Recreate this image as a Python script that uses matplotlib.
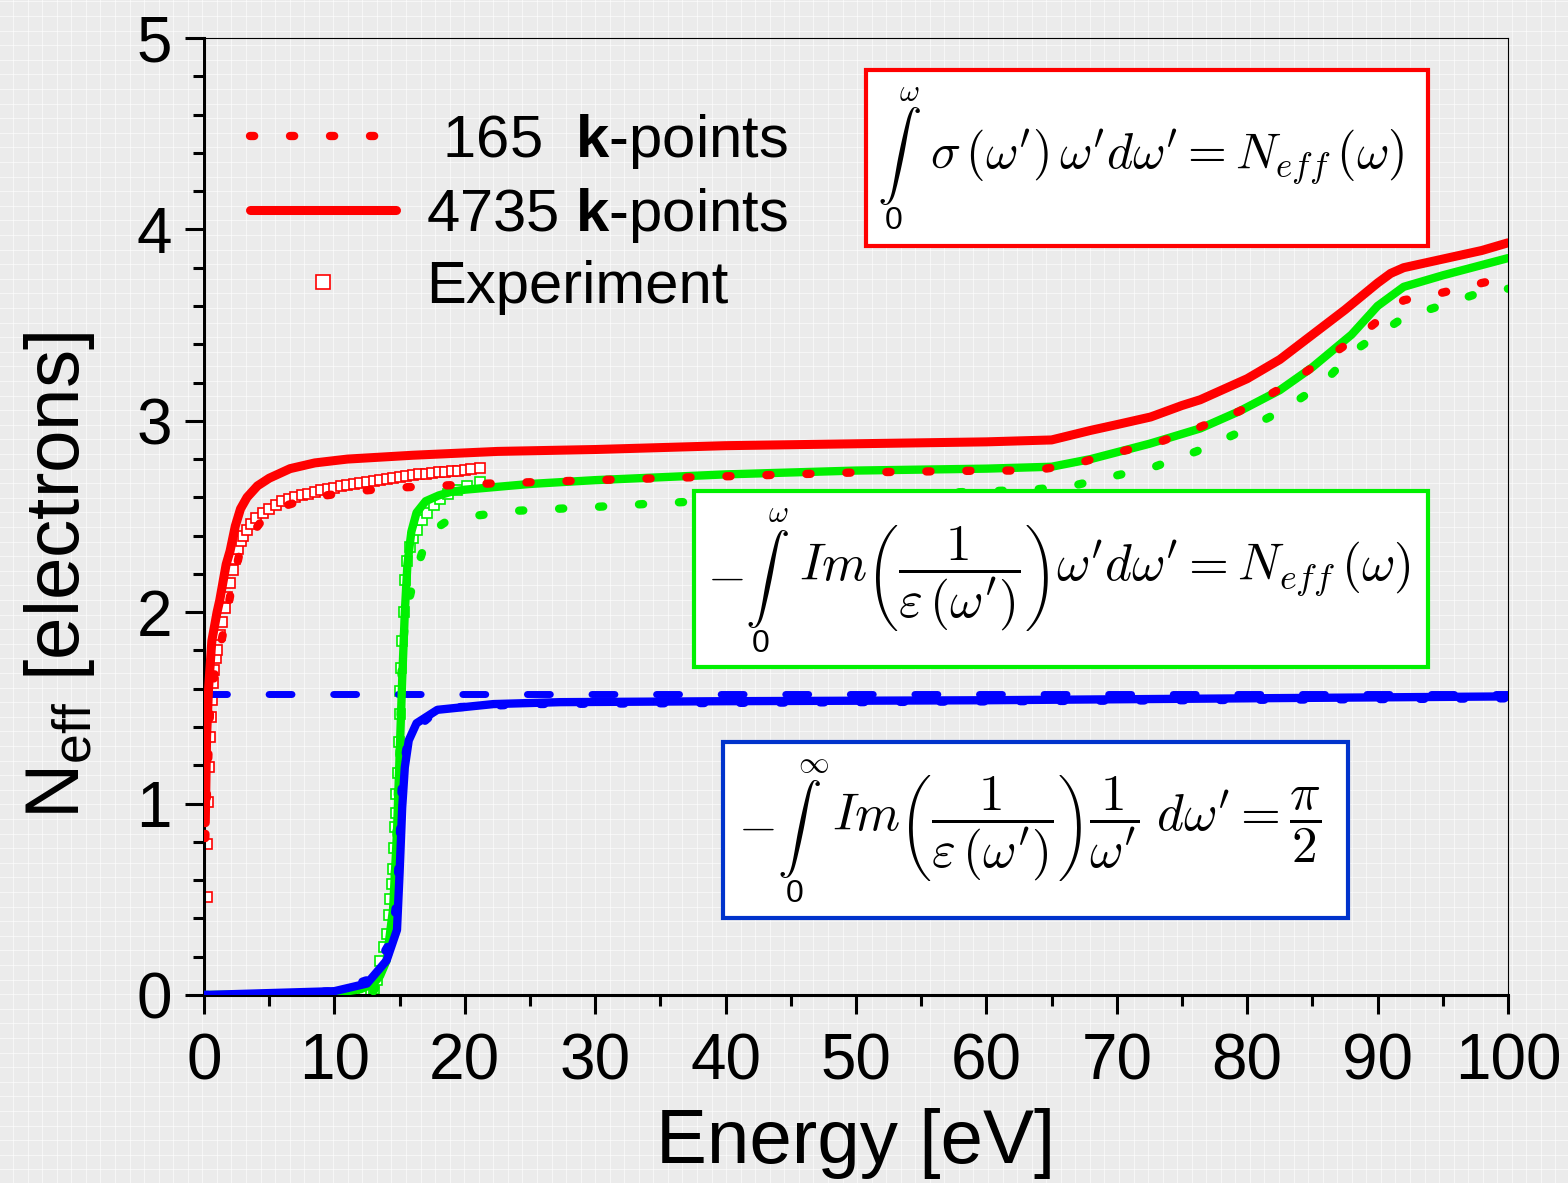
import numpy as np
import matplotlib
matplotlib.use("Agg")
import matplotlib.pyplot as plt
from matplotlib.patches import Rectangle
from matplotlib.lines import Line2D

plt.rcParams['font.family'] = ['Liberation Sans', 'DejaVu Sans']
plt.rcParams['mathtext.fontset'] = 'custom'
plt.rcParams['mathtext.rm'] = 'Liberation Sans'
plt.rcParams['mathtext.bf'] = 'Liberation Sans:bold'
plt.rcParams['mathtext.it'] = 'Liberation Sans:italic'

# ---- data ----
# sigma integral, 4735 k-points
red_x = [0.1, 0.2, 0.35, 0.6, 1.0, 1.2, 1.7, 2.0, 2.4, 2.8, 3.3, 4.1, 5.0, 6.6, 8.5, 11, 16, 22.5, 30, 40, 50, 60,
         65, 68, 70, 72.6, 75, 76.4, 80, 82.5, 85, 87.5, 90, 91, 92, 94, 96, 98, 100]
red_y = [0.9, 1.35, 1.6, 1.85, 2.0, 2.06, 2.25, 2.32, 2.45, 2.54, 2.6, 2.66, 2.7, 2.75, 2.78, 2.8, 2.82, 2.84, 2.85,
         2.87, 2.88, 2.89, 2.90, 2.95, 2.98, 3.02, 3.08, 3.11, 3.22, 3.32, 3.45, 3.58, 3.72, 3.77, 3.80, 3.83, 3.86,
         3.89, 3.93]
# sigma integral, 165 k-points
red_dot_x = [0.1, 0.5, 1.0, 1.5, 2.1, 2.8, 5.0, 8.3, 11.4, 14.6, 17.8, 20.9, 30, 40, 50, 60, 63.5, 66.6, 69.7, 72.9,
             76.1, 79.4, 82.6, 85.7, 88.7, 92, 95, 98, 100]
red_dot_y = [0.82, 1.55, 1.75, 1.9, 2.12, 2.33, 2.53, 2.6, 2.63, 2.65, 2.66, 2.67, 2.69, 2.71, 2.73, 2.74, 2.74, 2.77,
             2.83, 2.88, 2.96, 3.05, 3.17, 3.31, 3.45, 3.63, 3.67, 3.72, 3.75]
# experiment (sigma)
red_exp_x = [0.23, 0.25, 0.3, 0.38, 0.46, 0.54, 0.61, 0.69, 0.8, 0.9, 1.0, 1.2, 1.4, 1.6, 1.8, 2.0, 2.2, 2.4, 2.6,
             2.8, 3.0, 3.3, 3.6, 4.0, 4.5, 5.0, 5.5, 6.0, 6.5, 7.0, 7.5, 8.0, 8.5, 9.0, 9.5, 10.0, 10.5, 11.0, 11.5,
             12.0, 12.5, 13.0, 13.5, 14.0, 14.5, 15.0, 15.5, 16.0, 16.5, 17.0, 17.5, 18.0, 18.5, 19.0, 19.5, 20.0,
             20.5, 21.2]
red_exp_y = [0.51, 0.79, 1.01, 1.19, 1.35, 1.45, 1.54, 1.63, 1.7, 1.76, 1.80, 1.88, 1.95, 2.02, 2.08, 2.15, 2.22, 2.28,
             2.33, 2.37, 2.40, 2.43, 2.46, 2.49, 2.52, 2.54, 2.56, 2.58, 2.59, 2.60, 2.61, 2.62, 2.63, 2.64, 2.645,
             2.65, 2.66, 2.665, 2.67, 2.675, 2.68, 2.685, 2.69, 2.695, 2.70, 2.705, 2.71, 2.715, 2.72, 2.72, 2.725,
             2.73, 2.735, 2.74, 2.74, 2.745, 2.75, 2.755]

# loss function integral, 4735 k-points
green_x = [0, 5, 10, 12, 13, 13.5, 14, 14.5, 14.8, 15.0, 15.2, 15.4, 15.6, 15.9, 16.3, 17, 18, 19, 20, 25, 30, 40,
           50, 60, 65, 68, 72.5, 76.4, 79.4, 82.5, 85, 88, 90, 92, 95, 100]
green_y = [0, 0.005, 0.01, 0.03, 0.06, 0.1, 0.18, 0.45, 0.85, 1.25, 1.65, 2.0, 2.25, 2.42, 2.52, 2.58, 2.61, 2.63,
           2.64, 2.67, 2.69, 2.72, 2.74, 2.75, 2.76, 2.80, 2.88, 2.96, 3.05, 3.16, 3.28, 3.45, 3.60, 3.70, 3.76, 3.85]
# loss function integral, 165 k-points
green_dot_x = [13, 14, 14.5, 14.8, 14.9, 15.03, 15.18, 15.5, 16.2, 17.2, 18.5, 20.3, 24, 30, 35, 45, 55, 63.5,
               66.6, 69.7, 72.9, 76.1, 79.4, 82.6, 85.7, 88.3, 92, 94.8, 97.9, 100]
green_dot_y = [0.02, 0.15, 0.4, 0.91, 1.13, 1.34, 1.77, 2.0, 2.2, 2.41, 2.47, 2.50, 2.53, 2.55, 2.57, 2.60, 2.62,
               2.64, 2.66, 2.71, 2.76, 2.84, 2.94, 3.05, 3.19, 3.37, 3.54, 3.60, 3.67, 3.69]
# experiment (loss function)
green_exp_x = [11.8, 12.3, 12.8, 13.0, 13.3, 13.5, 13.8, 14.0, 14.2, 14.3, 14.4, 14.5, 14.55, 14.65, 14.7, 14.75,
               14.85, 14.95, 15.0, 15.05, 15.1, 15.2, 15.3, 15.4, 15.6, 15.8, 16.0, 16.3, 16.7, 17.1, 17.6, 18.1,
               18.7, 19.4, 20.2, 21.2]
green_exp_y = [0.0, 0.01, 0.02, 0.03, 0.08, 0.18, 0.25, 0.32, 0.42, 0.5, 0.58, 0.66, 0.77, 0.88, 0.95, 1.05, 1.16,
               1.32, 1.47, 1.59, 1.71, 1.85, 2.0, 2.17, 2.27, 2.34, 2.39, 2.43, 2.48, 2.52, 2.56, 2.59, 2.62, 2.64,
               2.66, 2.68]

# sum rule, 4735 k-points
blue_x = [0, 5, 10, 12.5, 14, 14.8, 15.0, 15.2, 15.4, 15.7, 16.3, 17.9, 22.2, 27.3, 40, 60, 80, 100]
blue_y = [0, 0.01, 0.02, 0.06, 0.18, 0.34, 0.64, 0.98, 1.19, 1.33, 1.42, 1.49, 1.52, 1.53, 1.535, 1.54, 1.55, 1.56]
# sum rule, 165 k-points
blue_dot_x = [0, 5, 10, 12.6, 14.4, 14.8, 15.0, 15.2, 15.7, 18.1, 25, 50, 75, 100]
blue_dot_y = [0, 0.005, 0.02, 0.08, 0.29, 0.51, 0.8, 1.15, 1.36, 1.5, 1.52, 1.53, 1.54, 1.55]
# pi/2 reference
pi_half_x = [0, 100]
pi_half_y = [np.pi / 2, np.pi / 2]

RED = '#ff0000'
GREEN = '#00f000'
BLUE = '#0000ff'

W, H = 1568, 1183
fig = plt.figure(figsize=(W / 100, H / 100), dpi=100, facecolor='#ebebeb')

# light checkered background
bg = fig.add_axes([0, 0, 1, 1])
bg.set_xlim(0, W)
bg.set_ylim(H, 0)
bg.axis('off')
for gx in np.arange(13.15, W, 14.55):
    bg.axvline(gx, color='white', lw=0.8, alpha=0.6)
for gy in np.arange(1.4, H, 14.6):
    bg.axhline(gy, color='white', lw=0.8, alpha=0.6)

ax = fig.add_axes([204 / W, (H - 995) / H, 1304 / W, 957 / H])
ax.set_facecolor('none')

dot = (0, (0.5, 4.3))
ax.plot(green_exp_x, green_exp_y, ls='none', marker='s', ms=7, mfc='white', mec=GREEN, mew=1.2, zorder=2)
ax.plot(red_exp_x, red_exp_y, ls='none', marker='s', ms=7, mfc='white', mec=RED, mew=1.2, zorder=2)
ax.plot(pi_half_x, pi_half_y, color=BLUE, lw=5, ls=(0, (3.3, 6.0)), dash_capstyle='round', zorder=3)
ax.plot(green_x, green_y, color=GREEN, lw=6, solid_capstyle='round', zorder=3)
ax.plot(green_dot_x, green_dot_y, color=GREEN, lw=6, ls=dot, dash_capstyle='round', zorder=3)
ax.plot(blue_x, blue_y, color=BLUE, lw=6, solid_capstyle='round', zorder=4)
ax.plot(blue_dot_x, blue_dot_y, color=BLUE, lw=6, ls=dot, dash_capstyle='round', zorder=4)
ax.plot(red_x, red_y, color=RED, lw=6.5, solid_capstyle='round', zorder=4)
ax.plot(red_dot_x, red_dot_y, color=RED, lw=6, ls=dot, dash_capstyle='round', zorder=4)

ax.set_xlim(0, 100)
ax.set_ylim(0, 5)
ax.set_xticks(np.arange(0, 101, 10))
ax.set_xticks(np.arange(5, 100, 10), minor=True)
ax.set_yticks(np.arange(0, 6, 1))
ax.set_yticks(np.arange(0, 5.01, 0.2), minor=True)
ax.tick_params(which='both', direction='out', width=2.2, top=False, right=False)
ax.tick_params(which='major', length=14, labelsize=46)
ax.tick_params(which='minor', length=8)
ax.tick_params(axis='x', pad=13)
ax.tick_params(axis='y', pad=9)
for s in ['left', 'bottom']:
    ax.spines[s].set_linewidth(2.2)
for s in ['top', 'right']:
    ax.spines[s].set_linewidth(0.8)

ax.set_xlabel('Energy [eV]', fontsize=55, va='top')
ax.xaxis.set_label_coords(0.5, -0.118)
ax.set_ylabel(r'N$_\mathregular{eff}$ [electrons]', fontsize=55)
ax.yaxis.set_label_coords(-0.082, 0.439)

handles = [
    Line2D([], [], color=RED, lw=6, ls=dot, dash_capstyle='round'),
    Line2D([], [], color=RED, lw=6.5, solid_capstyle='round'),
    Line2D([], [], ls='none', marker='s', ms=10, mfc='white', mec=RED, mew=1.2),
]
labels = [r' 165  $\mathbf{k}$-points', r'4735 $\mathbf{k}$-points', 'Experiment']
ax.legend(handles, labels, loc='upper left', bbox_to_anchor=((250 - 204) / 1304, (995 - 112) / 957),
          frameon=False, fontsize=43, handlelength=2.45, handletextpad=0.5, labelspacing=0.25,
          borderpad=0, borderaxespad=0)


def fx(px):
    return px / W


def fy(py):
    return 1 - py / H


def eq_box(x0, y0, x1, y1, color):
    fig.add_artist(Rectangle((fx(x0), fy(y1)), (x1 - x0) / W, (y1 - y0) / H, transform=fig.transFigure,
                             facecolor='white', edgecolor=color, lw=3, zorder=5))


def eq_text(x, y, s, size, ha='left'):
    fig.text(fx(x), fy(y), s, fontsize=size, ha=ha, va='center', math_fontfamily='cm', zorder=6)


# sigma box
eq_box(866, 70, 1428, 246, RED)
eq_text(899, 156, r'$\int$', 32, ha='center')
eq_text(909, 93, r'$\omega$', 22, ha='center')
fig.text(fx(894), fy(221), '0', fontsize=23, ha='center', va='center', zorder=6)
eq_text(930, 157, r"$\sigma\,(\omega')\,\omega' d\omega' = N_{eff}\,(\omega)$", 36)

# loss function box
eq_box(694, 491, 1428, 667, GREEN)
eq_text(725, 578, r'$-$', 36, ha='center')
eq_text(767, 579, r'$\int$', 32, ha='center')
eq_text(778, 514, r'$\omega$', 22, ha='center')
fig.text(fx(761), fy(644), '0', fontsize=23, ha='center', va='center', zorder=6)
eq_text(799, 578, r"$Im\left(\dfrac{1}{\varepsilon\,(\omega')}\right)\omega' d\omega' = N_{eff}\,(\omega)$", 37)

# sum rule box
eq_box(723, 742, 1348, 918, '#0033cc')
eq_text(756, 828, r'$-$', 36, ha='center')
eq_text(799, 829, r'$\int$', 32, ha='center')
eq_text(813, 764, r'$\infty$', 22, ha='center')
fig.text(fx(795), fy(894), '0', fontsize=23, ha='center', va='center', zorder=6)
eq_text(832, 828, r"$Im\left(\dfrac{1}{\varepsilon\,(\omega')}\right)\dfrac{1}{\omega'}\;d\omega' = \dfrac{\pi}{2}$", 37)

fig.savefig('out.png', dpi=100, facecolor=fig.get_facecolor())
